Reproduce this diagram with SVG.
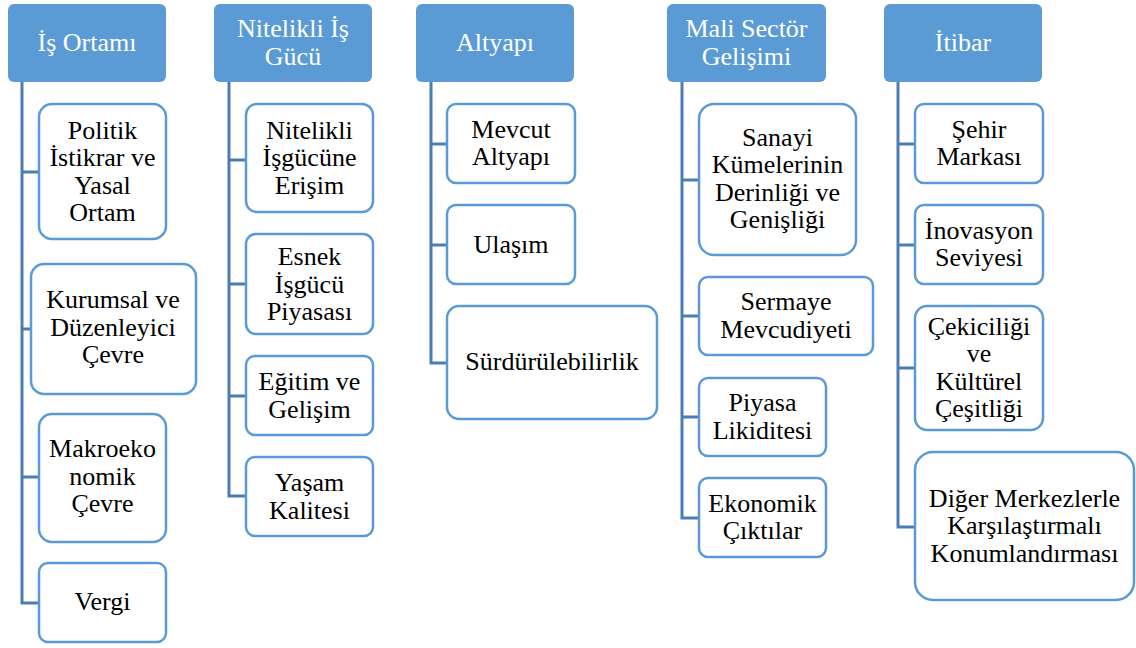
<svg xmlns="http://www.w3.org/2000/svg" width="1136" height="648" viewBox="0 0 1136 648">
<style>
.hdr{fill:#5b9bd5;stroke:none}
.hdrt{fill:#ffffff;font-family:"Liberation Serif","Times New Roman",serif;font-size:26px;text-anchor:middle}
.box{fill:#ffffff;stroke:#5b9bd5;stroke-width:2.5}
.t{fill:#000000;font-family:"Liberation Serif","Times New Roman",serif;font-size:26px;text-anchor:middle}
.con{fill:none;stroke:#4a7db5;stroke-width:3;stroke-linejoin:miter}
</style>
<rect width="1136" height="648" fill="#ffffff"/>
<g id="connectors">
<path class="con" d="M22,82 V603 H39 M22,172 H39 M22,329 H31 M22,477 H39"/>
<path class="con" d="M229,82 V496 H246 M229,160 H246 M229,284 H246 M229,396 H246"/>
<path class="con" d="M431,82 V363 H447 M431,144 H447 M431,245 H447"/>
<path class="con" d="M682,82 V518 H699 M682,180 H699 M682,316 H699 M682,417 H699"/>
<path class="con" d="M898,82 V527 H915 M898,144 H915 M898,245 H915 M898,368 H915"/>
</g>
<g id="h1"><rect class="hdr" x="8" y="4" width="158" height="78" rx="6"/><text class="hdrt" x="87" y="51">İş Ortamı</text></g>
<g id="h2"><rect class="hdr" x="214" y="4" width="158" height="78" rx="6"/><text class="hdrt"><tspan x="293" y="37">Nitelikli İş</tspan><tspan x="293" y="64.5">Gücü</tspan></text></g>
<g id="h3"><rect class="hdr" x="416" y="4" width="158" height="78" rx="6"/><text class="hdrt" x="495" y="51">Altyapı</text></g>
<g id="h4"><rect class="hdr" x="667" y="4" width="159" height="78" rx="6"/><text class="hdrt"><tspan x="746.5" y="37">Mali Sectör</tspan><tspan x="746.5" y="64.5">Gelişimi</tspan></text></g>
<g id="h5"><rect class="hdr" x="884" y="4" width="158" height="78" rx="6"/><text class="hdrt" x="963" y="51">İtibar</text></g>

<g id="n1a"><rect class="box" x="39" y="104" width="127" height="135" rx="13"/><text class="t"><tspan x="102.5" y="138.5">Politik</tspan><tspan x="102.5" y="166">İstikrar ve</tspan><tspan x="102.5" y="193.5">Yasal</tspan><tspan x="102.5" y="221">Ortam</tspan></text></g>
<g id="n1b"><rect class="box" x="31" y="264" width="165" height="130" rx="13"/><text class="t"><tspan x="113" y="308">Kurumsal ve</tspan><tspan x="113" y="335.5">Düzenleyici</tspan><tspan x="113" y="363">Çevre</tspan></text></g>
<g id="n1c"><rect class="box" x="39" y="414" width="127" height="128" rx="13"/><text class="t"><tspan x="102.5" y="457">Makroeko</tspan><tspan x="102.5" y="484.5">nomik</tspan><tspan x="102.5" y="512">Çevre</tspan></text></g>
<g id="n1d"><rect class="box" x="39" y="563" width="127" height="79" rx="9"/><text class="t" x="102.5" y="610">Vergi</text></g>

<g id="n2a"><rect class="box" x="246" y="104" width="127" height="108" rx="11"/><text class="t"><tspan x="309.5" y="138.5">Nitelikli</tspan><tspan x="309.5" y="166">İşgücüne</tspan><tspan x="309.5" y="193.5">Erişim</tspan></text></g>
<g id="n2b"><rect class="box" x="246" y="234" width="127" height="100" rx="10"/><text class="t"><tspan x="309.5" y="265">Esnek</tspan><tspan x="309.5" y="292.5">İşgücü</tspan><tspan x="309.5" y="320">Piyasası</tspan></text></g>
<g id="n2c"><rect class="box" x="246" y="356" width="127" height="79" rx="9"/><text class="t"><tspan x="309.5" y="390">Eğitim ve</tspan><tspan x="309.5" y="417.5">Gelişim</tspan></text></g>
<g id="n2d"><rect class="box" x="246" y="457" width="127" height="79" rx="9"/><text class="t"><tspan x="309.5" y="491">Yaşam</tspan><tspan x="309.5" y="518.5">Kalitesi</tspan></text></g>

<g id="n3a"><rect class="box" x="447" y="104" width="128" height="79" rx="9"/><text class="t"><tspan x="511" y="137.5">Mevcut</tspan><tspan x="511" y="165">Altyapı</tspan></text></g>
<g id="n3b"><rect class="box" x="447" y="205" width="128" height="79" rx="9"/><text class="t" x="511" y="253">Ulaşım</text></g>
<g id="n3c"><rect class="box" x="447" y="306" width="210" height="113" rx="12"/><text class="t" x="552" y="370">Sürdürülebilirlik</text></g>

<g id="n4a"><rect class="box" x="699" y="104" width="157" height="151" rx="15"/><text class="t"><tspan x="777.5" y="145.5">Sanayi</tspan><tspan x="777.5" y="173">Kümelerinin</tspan><tspan x="777.5" y="200.5">Derinliği ve</tspan><tspan x="777.5" y="228">Genişliği</tspan></text></g>
<g id="n4b"><rect class="box" x="699" y="277" width="174" height="78" rx="9"/><text class="t"><tspan x="786" y="310">Sermaye</tspan><tspan x="786" y="337.5">Mevcudiyeti</tspan></text></g>
<g id="n4c"><rect class="box" x="699" y="378" width="127" height="78" rx="9"/><text class="t"><tspan x="762.5" y="411">Piyasa</tspan><tspan x="762.5" y="438.5">Likiditesi</tspan></text></g>
<g id="n4d"><rect class="box" x="699" y="478" width="127" height="79" rx="9"/><text class="t"><tspan x="762.5" y="511.5">Ekonomik</tspan><tspan x="762.5" y="539">Çıktılar</tspan></text></g>

<g id="n5a"><rect class="box" x="915" y="104" width="128" height="79" rx="9"/><text class="t"><tspan x="979" y="137.5">Şehir</tspan><tspan x="979" y="165">Markası</tspan></text></g>
<g id="n5b"><rect class="box" x="915" y="205" width="128" height="79" rx="9"/><text class="t"><tspan x="979" y="238.5">İnovasyon</tspan><tspan x="979" y="266">Seviyesi</tspan></text></g>
<g id="n5c"><rect class="box" x="915" y="306" width="128" height="124" rx="12"/><text class="t"><tspan x="979" y="334.5">Çekiciliği</tspan><tspan x="979" y="362">ve</tspan><tspan x="979" y="389.5">Kültürel</tspan><tspan x="979" y="417">Çeşitliği</tspan></text></g>
<g id="n5d"><rect class="box" x="915" y="452" width="219" height="148" rx="18"/><text class="t"><tspan x="1024.5" y="506.5">Diğer Merkezlerle</tspan><tspan x="1024.5" y="534">Karşılaştırmalı</tspan><tspan x="1024.5" y="561.5">Konumlandırması</tspan></text></g>
</svg>
